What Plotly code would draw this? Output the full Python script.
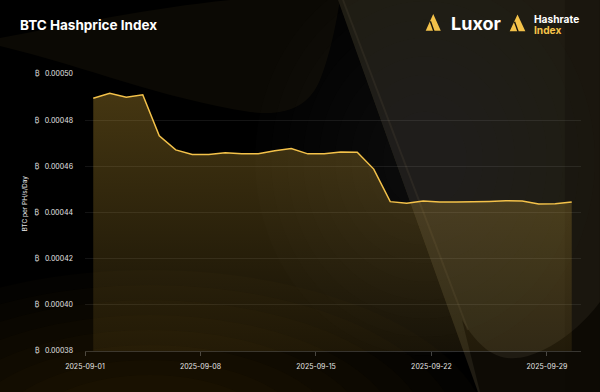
import plotly.graph_objects as go

# ---------------- data ----------------
dates = [
    "2025-09-01 12:00", "2025-09-02 12:00", "2025-09-03 12:00", "2025-09-04 12:00",
    "2025-09-05 12:00", "2025-09-06 12:00", "2025-09-07 12:00", "2025-09-08 12:00",
    "2025-09-09 12:00", "2025-09-10 12:00", "2025-09-11 12:00", "2025-09-12 12:00",
    "2025-09-13 12:00", "2025-09-14 12:00", "2025-09-15 12:00", "2025-09-16 12:00",
    "2025-09-17 12:00", "2025-09-18 12:00", "2025-09-19 12:00", "2025-09-20 12:00",
    "2025-09-21 12:00", "2025-09-22 12:00", "2025-09-23 12:00", "2025-09-24 12:00",
    "2025-09-25 12:00", "2025-09-26 12:00", "2025-09-27 12:00", "2025-09-28 12:00",
    "2025-09-29 12:00", "2025-09-30 12:00",
]
hashprice = [
    0.0004895, 0.0004916, 0.0004899, 0.0004910, 0.0004732, 0.0004671, 0.0004651,
    0.0004651, 0.0004659, 0.0004655, 0.0004655, 0.0004668, 0.0004677, 0.0004654,
    0.0004654, 0.0004662, 0.0004661, 0.0004588, 0.0004447, 0.0004440, 0.0004450,
    0.0004445, 0.0004445, 0.0004445, 0.0004448, 0.0004451, 0.0004450, 0.0004437,
    0.0004438, 0.0004446,
]
x_range = ["2025-09-01 00:00", "2025-10-01 01:30"]
y_range = [0.00038, 0.00050]
y_tick_step = 0.00002
title_text = "BTC Hashprice Index"
y_title = "BTC per PH/s/Day"

# ---------------- layout geometry ----------------
W, H = 600, 392
ML, MR, MT, MB = 85, 19, 74, 41
PW, PH = W - ML - MR, H - MT - MB
FONT = "Inter, 'Noto Sans', 'DejaVu Sans', sans-serif"
GOLD = "#f4c24a"


def P(x, y):
    """page pixel -> paper coords"""
    return (x - ML) / PW, (H - MB - y) / PH


def path(cmds):
    out = []
    for c in cmds:
        op, pts = c[0], c[1:]
        out.append(op + " ".join("%.4f,%.4f" % P(*pt) for pt in pts))
    return " ".join(out) + " Z"


shapes = []


def add_path(cmds, color, layer="below"):
    shapes.append(dict(type="path", xref="paper", yref="paper", path=path(cmds),
                       fillcolor=color, line=dict(width=0), layer=layer))


def add_circle(cx, cy, r, color, ry=None):
    ry = ry or r
    x0, y0 = P(cx - r, cy + ry)
    x1, y1 = P(cx + r, cy - ry)
    shapes.append(dict(type="circle", xref="paper", yref="paper", x0=x0, y0=y0,
                       x1=x1, y1=y1, fillcolor=color, line=dict(width=0), layer="below"))


# bottom-left warm glow
for i in range(8):
    r = 340 - i * 30
    add_circle(150, 440, r, "rgba(110,82,28,0.038)", ry=r * 0.5)

# top-left swoosh band
add_path([("M", (0, 46)), ("C", (90, 68), (160, 98), (250, 112)),
          ("C", (290, 117), (310, 104), (320, 80)),
          ("C", (330, 55), (336, 25), (340, 0)),
          ("L", (230, 0)), ("C", (150, 8), (70, 25), (0, 38))],
         "rgba(60,48,20,0.19)")

# right lit ribbon
add_path([("M", (338, 0)), ("L", (600, 0)), ("L", (600, 392)), ("L", (478, 392))],
         "rgba(31,27,18,1)")
# brighter core (soft, many faint layers)
for i in range(9):
    r = 170 - i * 16
    add_circle(425, 160, r, "rgba(70,64,52,0.035)", ry=r * 1.15)
# right edge darkening
add_path([("M", (565, 0)), ("L", (600, 0)), ("L", (600, 392)), ("L", (565, 392))],
         "rgba(12,9,3,0.25)")
# dark bottom-right pocket below the U curve
add_path([("M", (462, 320)), ("C", (485, 358), (505, 362), (528, 356)),
          ("C", (560, 346), (585, 322), (600, 302)),
          ("L", (600, 392)), ("L", (480, 392))],
         "rgba(10,8,3,0.8)")
# thin fold highlight
a, b = P(343, 0), P(468, 330)
shapes.append(dict(type="line", xref="paper", yref="paper", x0=a[0], y0=a[1], x1=b[0], y1=b[1],
                   line=dict(color="rgba(80,72,55,0.25)", width=2), layer="below"))


# logo icons (rounded triangles with a slash)
def logo_icon(x0, y0, w, h):
    add_path([("M", (x0, y0 + h)), ("L", (x0 + w / 2, y0)), ("L", (x0 + w, y0 + h))],
             GOLD, layer="above")
    shapes.append(dict(type="path", xref="paper", yref="paper",
                       path=path([("M", (x0 + 0.4, y0 + h - 0.4)), ("L", (x0 + w / 2, y0 + 0.6)),
                                  ("L", (x0 + w - 0.4, y0 + h - 0.4))]),
                       fillcolor=GOLD, line=dict(color=GOLD, width=2.2), layer="above"))
    p, q = P(x0 + w * 0.27, y0 + h * 0.38), P(x0 + w * 0.55, y0 + h + 1.2)
    shapes.append(dict(type="line", xref="paper", yref="paper", x0=p[0], y0=p[1],
                       x1=q[0], y1=q[1], line=dict(color="#16120a", width=1.4), layer="above"))


logo_icon(427, 16, 12.5, 14)
logo_icon(511, 16.5, 13, 14)

# ---------------- figure ----------------
fig = go.Figure()
fig.add_trace(go.Scatter(
    x=dates, y=hashprice, mode="lines",
    line=dict(color=GOLD, width=1.5),
    fill="tozeroy",
    fillgradient=dict(type="vertical",
                      colorscale=[[0, "rgba(235,185,60,0.09)"], [1, "rgba(235,185,60,0.29)"]],
                      start=0.00038, stop=0.00049),
    hoverinfo="skip", showlegend=False,
))

annotations = [
    dict(text="<b>" + title_text + "</b>", xref="paper", yref="paper",
         x=P(18, 0)[0], y=P(0, 25)[1], xanchor="left", yanchor="middle", showarrow=False,
         font=dict(family=FONT, size=13.5, color="#ffffff")),
    dict(text=y_title, xref="paper", yref="paper", x=P(24.5, 0)[0], y=P(0, 204)[1],
         textangle=-90, xanchor="center", yanchor="middle", showarrow=False,
         font=dict(family=FONT, size=6.5, color="#e8e8e8")),
    dict(text="<b>Luxor</b>", xref="paper", yref="paper", x=P(448.5, 0)[0], y=P(0, 23)[1],
         xanchor="left", yanchor="middle", showarrow=False,
         font=dict(family=FONT, size=18, color="#ffffff")),
    dict(text="<b>Hashrate</b>", xref="paper", yref="paper", x=P(532, 0)[0], y=P(0, 19)[1],
         xanchor="left", yanchor="middle", showarrow=False,
         font=dict(family=FONT, size=10.2, color="#ffffff")),
    dict(text="<b>Index</b>", xref="paper", yref="paper", x=P(532, 0)[0], y=P(0, 30)[1],
         xanchor="left", yanchor="middle", showarrow=False,
         font=dict(family=FONT, size=10.2, color=GOLD)),
]

fig.update_layout(
    width=W, height=H,
    margin=dict(l=ML, r=MR, t=MT, b=MB, pad=0),
    paper_bgcolor="#000000", plot_bgcolor="rgba(0,0,0,0)",
    font=dict(family=FONT, color="#e6e6e6", size=7),
    shapes=shapes, annotations=annotations,
    showlegend=False,
    xaxis=dict(
        type="date", range=x_range, tick0="2025-09-01", dtick=7 * 86400000,
        tickformat="%Y-%m-%d", showgrid=False, zeroline=False,
        showline=True, linecolor="rgba(255,255,255,0.18)", linewidth=1,
        ticks="outside", ticklen=4, tickcolor="rgba(255,255,255,0.25)", tickwidth=1,
        tickfont=dict(family=FONT, size=7, color="#e6e6e6"), ticklabelstandoff=5,
    ),
    yaxis=dict(
        range=y_range, dtick=y_tick_step, tick0=0.00038, tickformat=".5f",
        tickprefix="\u20bf \u2002", showgrid=True, gridcolor="rgba(255,255,255,0.08)",
        gridwidth=1, zeroline=False, showline=False, ticks="",
        tickfont=dict(family=FONT, size=7, color="#e6e6e6"), ticklabelstandoff=11,
    ),
)

fig.write_html("out.html", config={"displayModeBar": False},
               post_script="document.body.style.margin='0';document.body.style.background='#000';")
